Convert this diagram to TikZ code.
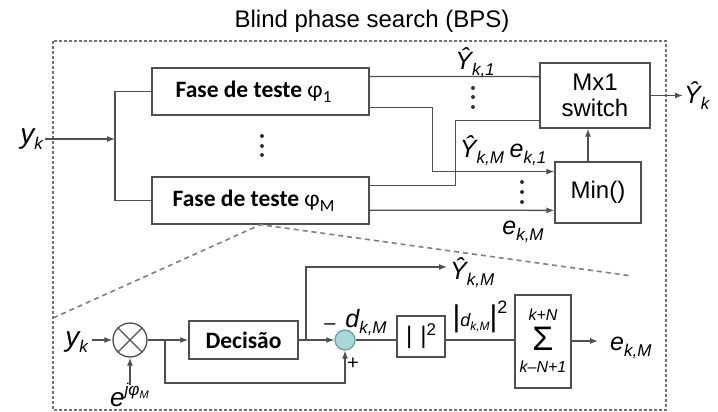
\documentclass[tikz,border=0pt]{standalone}
\usepackage{fontspec}
\setmainfont{Liberation Sans}
\newfontfamily\boxfont{Carlito}
\usetikzlibrary{arrows.meta,calc}

\definecolor{wire}{HTML}{505050}
\definecolor{adderfill}{HTML}{A8D8DA}
\definecolor{adderline}{HTML}{6E9C9E}

% font size helper and sub/superscripts for italic labels
\newcommand\fs[1]{\fontsize{#1pt}{#1pt}\selectfont}
\newcommand\sbs[1]{\raisebox{-6pt}{\fs{17}\itshape #1}}
\newcommand\phs[1]{{\mdseries φ}\raisebox{-5pt}{\fs{17}\mdseries #1}\hspace*{14pt}}

\begin{document}
\begin{tikzpicture}[x=1pt,y=-1pt,
  wire/.style={draw=wire,line width=1.3pt},
  arr/.style={wire,-{Latex[length=8pt,width=6pt]}},
  blk/.style={draw=wire,line width=1.3pt,fill=white,inner sep=0pt},
  lbl/.style={inner sep=0pt,text=black,font=\fs{25}},
  dotc/.style={fill=black!80,circle,inner sep=0pt,minimum size=4pt},
  frame/.style={draw=black!55,line width=1.3pt,dash pattern=on 3pt off 2pt},
  zoomline/.style={draw=black!50,line width=1.6pt,dash pattern=on 5pt off 4pt}]

\useasboundingbox (0,0) rectangle (718,412);

% title and outer frame
\node[lbl,font=\fs{24},anchor=base] (title) at (372,28) {Blind phase search (BPS)};
\draw[frame] (53,41) rectangle (666,410);

% ---------- upper part: bank of test phases ----------
\node[blk,minimum width=217pt,minimum height=47pt,font=\boxfont\bfseries\fs{23.5}] (f1) at (260.5,91.5) {Fase de teste \phs{1}};
\node[blk,minimum width=217pt,minimum height=47pt,font=\boxfont\bfseries\fs{23.5}] (fM) at (260.5,200.5) {Fase de teste \phs{M}};
\node[blk,minimum width=110pt,minimum height=65pt,font=\fs{24},align=center] (sw) at (595,95.5) {Mx1\\[2pt]switch};
\node[blk,minimum width=86pt,minimum height=61pt,font=\fs{24}] (mn) at (598,192.5) {Min()};

\node[lbl,font=\fs{28},anchor=base east] (yin) at (43,143) {\itshape y\sbs{k}};
\coordinate (in0) at (45,139);
\coordinate (split) at (115,139);
\draw[arr] (in0) -- (split);
\draw[wire] (f1.west) -| (split) |- (fM.west);

\coordinate (f1a) at ($(f1.north east)!0.19!(f1.south east)$);
\coordinate (f1b) at ($(f1.north east)!0.83!(f1.south east)$);
\coordinate (fMa) at ($(fM.north east)!0.19!(fM.south east)$);
\coordinate (fMb) at ($(fM.north east)!0.70!(fM.south east)$);
\coordinate (swa) at ($(sw.north west)!0.215!(sw.south west)$);
\coordinate (swb) at ($(sw.north west)!0.877!(sw.south west)$);
\coordinate (mna) at ($(mn.north west)!0.164!(mn.south west)$);
\coordinate (mnb) at ($(mn.north west)!0.787!(mn.south west)$);

\draw[wire] (f1a) -- (swa);
\draw[arr] (f1b) -- ++(63,0) |- (mna);
\draw[wire] (fMa) -- ++(86,0) |- (swb);
\draw[arr] (fMb) -- (mnb);

\coordinate (ctl) at ($(mn.north)+(-10,0)$);
\draw[arr] (ctl) -- (sw.south -| ctl);
\coordinate (yout) at (683,95.5);
\draw[arr] (sw.east) -- (yout);
\node[lbl,anchor=base west] (yhat) at (684,103) {\itshape Ŷ\sbs{k}};

\node[lbl,anchor=base] (y1) at (475,70) {\itshape Ŷ\sbs{k,1}};
\node[lbl,anchor=base] (yM) at (482,157) {\itshape Ŷ\sbs{k,M}};
\node[lbl,anchor=base] (e1) at (528,157) {\itshape e\sbs{k,1}};
\node[lbl,anchor=base] (eM) at (523,234) {\itshape e\sbs{k,M}};

\foreach \yy [count=\i] in {136,146,155} \node[dotc] (da\i) at (262,\yy) {};
\foreach \yy [count=\i] in {88,97,107} \node[dotc] (db\i) at (473,\yy) {};
\foreach \yy [count=\i] in {182,192,202} \node[dotc] (dc\i) at (522,\yy) {};

% ---------- zoom of one branch ----------
\coordinate (zl) at (53,318);
\coordinate (zr) at (632,276);
\draw[zoomline] (zl) -- (fM.south) -- (zr);

\node[draw=wire,line width=1.3pt,circle,minimum size=34pt,inner sep=0pt] (mul) at (130,340) {};
\draw[wire] (mul.45) -- (mul.225) (mul.135) -- (mul.-45);
\node[lbl,font=\fs{28},anchor=base east] (yin2) at (88,346) {\itshape y\sbs{k}};
\coordinate (m0) at (92,340);
\draw[arr] (m0) -- (mul.west);
\node[lbl,font=\fs{26},anchor=base west] (ephi) at (110,406)
  {\itshape e\raisebox{11pt}{\fs{17}\itshape j\mdseries φ\raisebox{-3pt}{\fs{11}\itshape M}}};
\coordinate (m1) at (130,385);
\draw[arr] (m1) -- (mul.south);

\node[blk,minimum width=109pt,minimum height=38pt,font=\boxfont\bfseries\fs{23.5}] (dec) at (243.5,340) {Decisão};
\node[circle,draw=adderline,fill=adderfill,line width=1.2pt,minimum size=20pt,inner sep=0pt] (add) at (345,340) {};
\node[blk,minimum width=48pt,minimum height=41pt,font=\fs{24}] (abs) at (421,336.5) {|\,\,|\raisebox{8pt}{\fs{17}2}};
\node[blk,minimum width=56pt,minimum height=93pt] (sum) at (543,341.5) {};
\node[lbl,font=\fs{16}\itshape] (stop) at (543,315) {k+N};
\node[lbl,font=\fs{34}] (ssig) at (543,339) {Σ};
\node[lbl,font=\fs{16}\itshape] (sbot) at (543,367) {k–N+1};

\coordinate (b1) at (165,340);
\coordinate (b2) at (306,340);
\draw[wire] (mul.east) -- (b1);
\draw[arr] (b1) -- (dec.west);
\draw[arr] (b1) -- ++(0,43) -| (add.south);
\draw[wire] (dec.east) -- (b2);
\draw[arr] (b2) -- (add.west);
\coordinate (yk2) at (447,267);
\draw[arr] (b2) |- (yk2);
\node[lbl,anchor=base west] (yM2) at (450,279) {\itshape Ŷ\sbs{k,M}};
\draw[wire] (add.east) -- (abs.west |- add.east);
\draw[wire] (abs.east |- add.east) -- (sum.west |- add.east);
\coordinate (eo) at (598,341);
\draw[arr] (sum.east |- eo) -- (eo);
\node[lbl,anchor=base west] (eM2) at (610,350) {\itshape e\sbs{k,M}};

\node[lbl,font=\fs{20}] (minus) at (330,327) {–};
\node[lbl,font=\fs{20}] (plus) at (353,364) {+};
\node[lbl,anchor=base] (dkm) at (366,327) {\itshape d\sbs{k,M}};
\node[lbl,anchor=base] (dsq) at (480,326) {{\fs{30}|}{\fs{18}\itshape d\raisebox{-4pt}{\fs{12}k,M}}{\fs{30}|}\raisebox{13pt}{\fs{18}2}};
\end{tikzpicture}
\end{document}
